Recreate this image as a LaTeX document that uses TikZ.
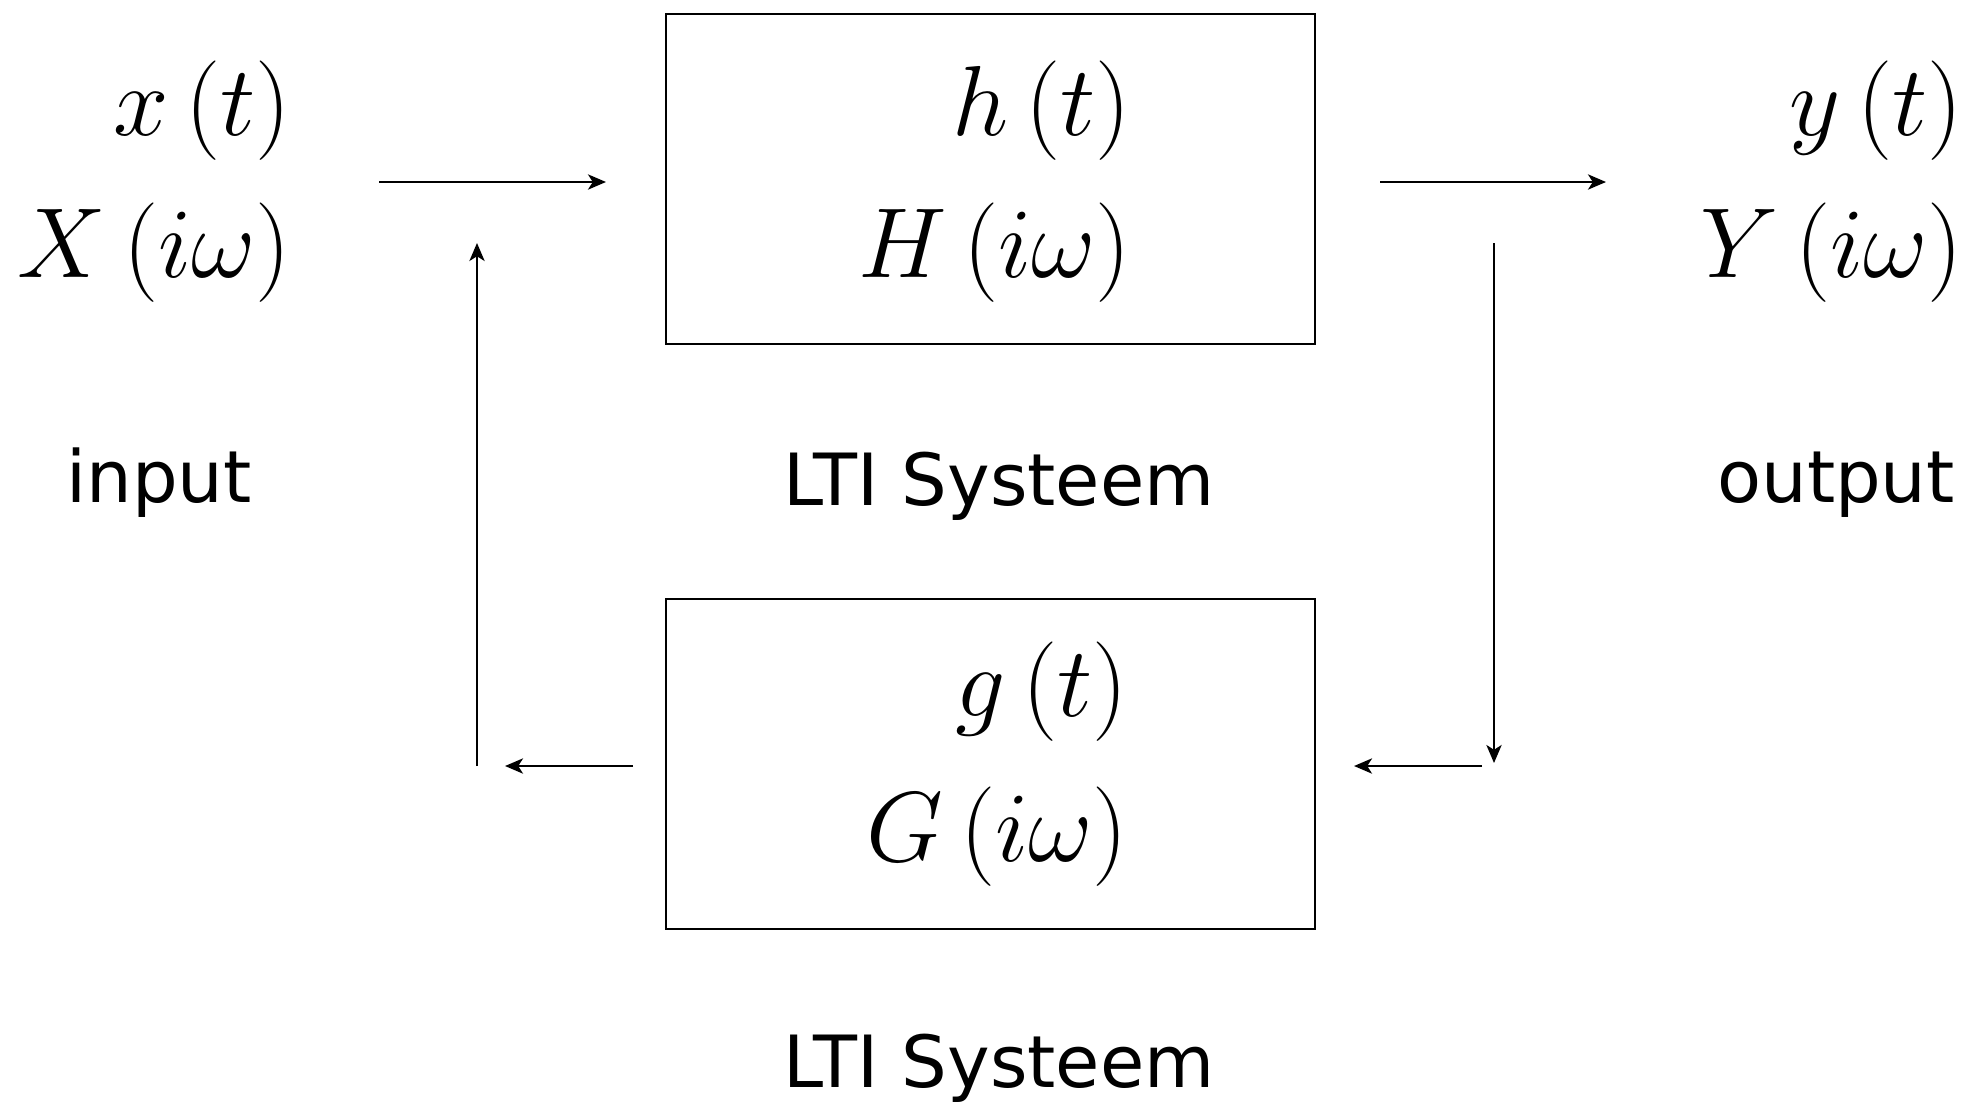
\documentclass[tikz,border=0pt]{standalone}
\usepackage{fontspec}
\newfontfamily\labelfont{DejaVu Sans}
\usetikzlibrary{arrows.meta}
\newcommand{\mathgroot}{\fontsize{24.88}{29}\selectfont}
\tikzset{
  blok/.style={draw, line width=0.6pt, minimum width=162.25pt, minimum height=82.5pt, inner sep=0pt},
  pijl/.style={line width=0.6pt, -{Stealth[length=4.5pt,width=3.8pt,inset=1.2pt]}},
  wiskunde/.style={inner sep=0pt, font=\mathgroot},
  tekst/.style={inner sep=0pt, anchor=base, font=\labelfont\fontsize{18}{22}\selectfont}
}
\begin{document}
\begin{tikzpicture}[x=0.25pt,y=0.25pt,yscale=-1,xscale=1]
\useasboundingbox (0,0) rectangle (1968,1104);

%Shape: Rectangle [id:sysH]
\node[blok] (sysH) at (990.5,179) {};
%Shape: Rectangle [id:sysG]
\node[blok] (sysG) at (990.5,764) {};

%Free ends of the connectors
\coordinate (inA) at (379,182);
\coordinate (inB) at (606,182);
\coordinate (outA) at (1380,182);
\coordinate (outB) at (1606,182);
\coordinate (terugA) at (1494,243);
\coordinate (terugB) at (1494,763);
\coordinate (terugC) at (1482,766);
\coordinate (terugD) at (1354,766);
\coordinate (terugE) at (633,766);
\coordinate (terugF) at (505,766);
\coordinate (terugG) at (477,766);
\coordinate (terugH) at (477,243);

%Straight Lines
\draw[pijl] (inA) -- (inB);
\draw[pijl] (outA) -- (outB);
\draw[pijl] (terugA) -- (terugB);
\draw[pijl] (terugC) -- (terugD);
\draw[pijl] (terugE) -- (terugF);
\draw[pijl] (terugG) -- (terugH);

% Text Node
\node[wiskunde, anchor=base east] (xt) at (292,135) {$x\left(t\right)$};
\node[wiskunde, anchor=base east] (Xw) at (292,277) {$X\left(i\omega\right)$};
\node[wiskunde, anchor=base east] (ht) at (1132,135) {$h\left(t\right)$};
\node[wiskunde, anchor=base east] (Hw) at (1132,277) {$H\left(i\omega\right)$};
\node[wiskunde, anchor=base east] (yt) at (1964,135) {$y\left(t\right)$};
\node[wiskunde, anchor=base east] (Yw) at (1964,277) {$Y\left(i\omega\right)$};
\node[wiskunde, anchor=base east] (gt) at (1129,716) {$g\left(t\right)$};
\node[wiskunde, anchor=base east] (Gw) at (1129,861) {$G\left(i\omega\right)$};
% Text Node
\node[tekst] (invoer) at (159,502) {input};
\node[tekst] (naamH) at (999,505) {LTI Systeem};
\node[tekst] (uitvoer) at (1836,502) {output};
\node[tekst] (naamG) at (999,1087) {LTI Systeem};

\end{tikzpicture}
\end{document}
